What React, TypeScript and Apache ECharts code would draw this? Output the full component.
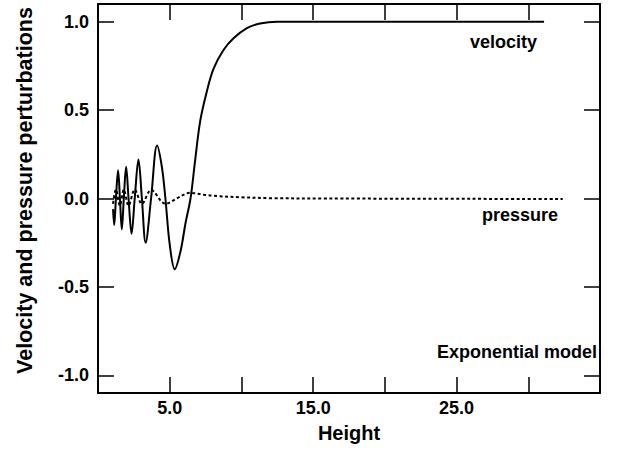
import React, { useEffect, useRef } from "react";
import * as echarts from "echarts";

// Velocity perturbation (solid)
const velocityX = [1.05, 1.13, 1.25, 1.40, 1.53, 1.66, 1.80, 1.96, 2.13, 2.34, 2.56, 2.82, 3.06, 3.32, 3.70, 4.12, 4.45, 4.70, 5.00, 5.35, 5.75, 6.10, 6.45, 6.75, 7.13, 7.60, 8.06, 8.75, 9.45, 10.38, 11.30, 12.50, 15.0, 31.1];
const velocityY = [-0.06, -0.15, 0.0, 0.16, 0.0, -0.175, 0.0, 0.18, 0.0, -0.20, 0.0, 0.22, 0.0, -0.25, 0.0, 0.30, 0.18, 0.0, -0.26, -0.40, -0.30, -0.14, 0.0, 0.20, 0.44, 0.61, 0.735, 0.84, 0.906, 0.963, 0.99, 1.0, 1.0, 1.0];

// Pressure perturbation (dotted)
const pressureX = [1.05, 1.25, 1.53, 1.80, 2.13, 2.56, 3.06, 3.70, 4.70, 5.60, 6.40, 7.30, 8.30, 10.0, 12.0, 16.0, 32.4];
const pressureY = [-0.03, 0.05, -0.04, 0.05, -0.04, 0.05, -0.03, 0.048, -0.03, 0.005, 0.032, 0.022, 0.014, 0.007, 0.002, 0.0, -0.003];

const xLabelValues = [5, 15, 25];
const xTitle = "Height";
const yTitle = "Velocity and pressure perturbations";
const labels = ["velocity", "pressure", "Exponential model"];

const FONT = "'Liberation Sans', Arial, Helvetica, sans-serif";

export default function App() {
  const ref = useRef<HTMLDivElement>(null);
  useEffect(() => {
    if (!ref.current) return;
    const chart = echarts.init(ref.current, undefined, { renderer: "svg" });
    const vel = velocityX.map((x, i) => [x, velocityY[i]]);
    const pres = pressureX.map((x, i) => [x, pressureY[i]]);
    const lineStyle = { color: "#000", width: 2 };
    const tick = { show: true, inside: true, length: 16, lineStyle: { color: "#000", width: 1.5 } };
    chart.setOption({
      animation: false,
      backgroundColor: "#fff",
      grid: { left: 98, right: 35, top: 4, bottom: 60, containLabel: false },
      xAxis: [
        {
          type: "value",
          min: 0,
          max: 35,
          interval: 5,
          position: "bottom",
          name: xTitle,
          nameLocation: "middle",
          nameGap: 30,
          nameTextStyle: { fontFamily: FONT, fontWeight: "bold", fontSize: 20, color: "#000" },
          axisLine: { show: true, onZero: false, lineStyle },
          axisTick: tick,
          splitLine: { show: false },
          axisLabel: {
            margin: 6,
            fontFamily: FONT,
            fontWeight: "bold",
            fontSize: 18,
            color: "#000",
            formatter: (v: number) => (xLabelValues.indexOf(v) >= 0 ? v.toFixed(1) : ""),
          },
        },
        {
          type: "value",
          min: 0,
          max: 35,
          interval: 5,
          position: "top",
          axisLine: { show: true, onZero: false, lineStyle },
          axisTick: tick,
          axisLabel: { show: false },
          splitLine: { show: false },
        },
      ],
      yAxis: [
        {
          type: "value",
          min: -1.1,
          max: 1.1,
          splitNumber: 5,
          position: "left",
          name: yTitle,
          nameLocation: "middle",
          nameGap: 62,
          nameRotate: 90,
          nameTextStyle: { fontFamily: FONT, fontWeight: "bold", fontSize: 21.5, color: "#000", padding: [0, 0, 0, 16] },
          axisLine: { show: true, onZero: false, lineStyle },
          axisTick: tick,
          splitLine: { show: false },
          axisLabel: {
            margin: 9,
            fontFamily: FONT,
            fontWeight: "bold",
            fontSize: 18,
            color: "#000",
            showMinLabel: false,
            showMaxLabel: false,
            formatter: (v: number) => (Math.abs(v) > 1.05 ? "" : v.toFixed(1)),
          },
        },
        {
          type: "value",
          min: -1.1,
          max: 1.1,
          splitNumber: 5,
          position: "right",
          axisLine: { show: true, onZero: false, lineStyle },
          axisTick: tick,
          axisLabel: { show: false },
          splitLine: { show: false },
        },
      ],
      series: [
        {
          name: "velocity",
          type: "line",
          data: vel,
          showSymbol: false,
          smooth: 0.35,
          lineStyle: { color: "#000", width: 2 },
          z: 3,
        },
        {
          name: "pressure",
          type: "line",
          data: pres,
          showSymbol: false,
          smooth: 0.35,
          lineStyle: { color: "#000", width: 2, type: [3, 2.5] },
          z: 2,
        },
      ],
      graphic: [
        {
          type: "text",
          x: 537,
          y: 42,
          style: { text: labels[0], fontFamily: FONT, fontWeight: "bold", fontSize: 18, fill: "#000", align: "right", verticalAlign: "middle" },
        },
        {
          type: "text",
          x: 558,
          y: 215,
          style: { text: labels[1], fontFamily: FONT, fontWeight: "bold", fontSize: 18, fill: "#000", align: "right", verticalAlign: "middle" },
        },
        {
          type: "text",
          x: 597,
          y: 352,
          style: { text: labels[2], fontFamily: FONT, fontWeight: "bold", fontSize: 18, fill: "#000", align: "right", verticalAlign: "middle" },
        },
      ],
    });
    return () => chart.dispose();
  }, []);
  return <div ref={ref} style={{ position: "absolute", left: 0, top: 0, width: 635, height: 453 }} />;
}
